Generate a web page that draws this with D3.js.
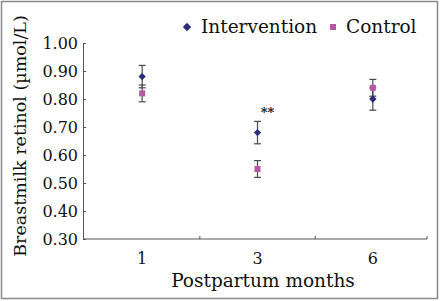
<!DOCTYPE html>
<html>
<head>
<meta charset="utf-8">
<script src="https://cdn.jsdelivr.net/npm/d3@7"></script>
<style>
  body { margin: 0; background: #fff; }
  text { font-family: "DejaVu Serif", serif; fill: #111; }
</style>
</head>
<body>
<svg width="440" height="301"></svg>
<script>
let months = ['1', '3', '6']
let intervention = [0.88, 0.68, 0.80]
let interventionErr = [0.04, 0.04, 0.04]
let control = [0.82, 0.55, 0.84]
let controlErr = [0.03, 0.03, 0.03]
let yTicks = [0.30, 0.40, 0.50, 0.60, 0.70, 0.80, 0.90, 1.00]

let svg = d3.select("svg")

svg.append("rect")
  .attr("x", 1.5).attr("y", 1.5)
  .attr("width", 436).attr("height", 297)
  .attr("fill", "none")
  .attr("stroke", "#8a8a8a")
  .attr("stroke-width", 1.5)

let x = d3.scaleBand().range([84.5, 430.5]).domain(months)
let y = d3.scaleLinear().range([239, 43]).domain([0.3, 1.0])

let colI = "#2b2d7a"
let colC = "#b855a5"

// y axis
let ya = svg.append("g")
  .attr("transform", "translate(83,0)")
  .call(d3.axisRight(y).tickValues(yTicks).tickFormat(d3.format(".2f")).tickSize(3).tickSizeOuter(0))
ya.selectAll("text").remove()
ya.selectAll("line, path").attr("stroke", "#555")
svg.selectAll(".ytl").data(yTicks).enter().append("text")
  .attr("x", 78).attr("y", d => y(d) + 5.5)
  .attr("text-anchor", "end")
  .attr("font-size", "16px")
  .text(d => d3.format(".2f")(d))

// x axis
let xa = svg.append("g")
  .attr("transform", "translate(0,239)")
xa.append("line")
  .attr("x1", 83).attr("x2", 427).attr("y1", 0).attr("y2", 0)
  .attr("stroke", "#555")
xa.selectAll(".sep").data(months.slice(1).concat(["end"])).enter().append("line")
  .attr("x1", (d, i) => i < 2 ? x(d) : 427)
  .attr("x2", (d, i) => i < 2 ? x(d) : 427)
  .attr("y1", 0).attr("y2", -3)
  .attr("stroke", "#555")
xa.selectAll(".xtl").data(months).enter().append("text")
  .attr("x", d => x(d) + x.bandwidth() / 2)
  .attr("y", 25)
  .attr("text-anchor", "middle")
  .attr("font-size", "16px")
  .text(d => d)

svg.append("text")
  .attr("x", 263).attr("y", 287)
  .attr("text-anchor", "middle")
  .attr("font-size", "18.5px")
  .text("Postpartum months")

svg.append("text")
  .attr("transform", "translate(26,136) rotate(-90)")
  .attr("text-anchor", "middle")
  .attr("font-size", "17.5px")
  .text("Breastmilk retinol (\u00b5mol/L)")

// error bars
function errBars(vals, errs) {
  let g = svg.append("g").attr("stroke", "#4a4a4a").attr("stroke-width", 1.2)
  vals.forEach((v, i) => {
    let cx = x(months[i]) + x.bandwidth() / 2
    g.append("line").attr("x1", cx).attr("x2", cx).attr("y1", y(v - errs[i])).attr("y2", y(v + errs[i]))
    g.append("line").attr("x1", cx - 3.5).attr("x2", cx + 3.5).attr("y1", y(v - errs[i])).attr("y2", y(v - errs[i]))
    g.append("line").attr("x1", cx - 3.5).attr("x2", cx + 3.5).attr("y1", y(v + errs[i])).attr("y2", y(v + errs[i]))
  })
}
errBars(intervention, interventionErr)
errBars(control, controlErr)

let diamond = d3.symbol().type(d3.symbolDiamond2).size(34)
svg.selectAll(".pi").data(intervention).enter().append("path")
  .attr("d", diamond)
  .attr("transform", (d, i) => "translate(" + (x(months[i]) + x.bandwidth() / 2) + "," + y(d) + ")")
  .attr("fill", colI)

svg.selectAll(".pc").data(control).enter().append("rect")
  .attr("x", (d, i) => x(months[i]) + x.bandwidth() / 2 - 3)
  .attr("y", d => y(d) - 3)
  .attr("width", 6).attr("height", 6)
  .attr("fill", colC)

svg.append("text")
  .attr("x", x('3') + x.bandwidth() / 2 + 10)
  .attr("y", 117)
  .attr("text-anchor", "middle")
  .attr("font-size", "13px")
  .attr("font-weight", "bold")
  .text("**")

// legend
svg.append("path")
  .attr("d", d3.symbol().type(d3.symbolDiamond2).size(45))
  .attr("transform", "translate(187,27)")
  .attr("fill", colI)
svg.append("text")
  .attr("x", 201).attr("y", 33)
  .attr("font-size", "18.5px")
  .text("Intervention")
svg.append("rect")
  .attr("x", 330).attr("y", 24).attr("width", 6).attr("height", 6)
  .attr("fill", colC)
svg.append("text")
  .attr("x", 346).attr("y", 33)
  .attr("font-size", "18.5px")
  .text("Control")
</script>
</body>
</html>
